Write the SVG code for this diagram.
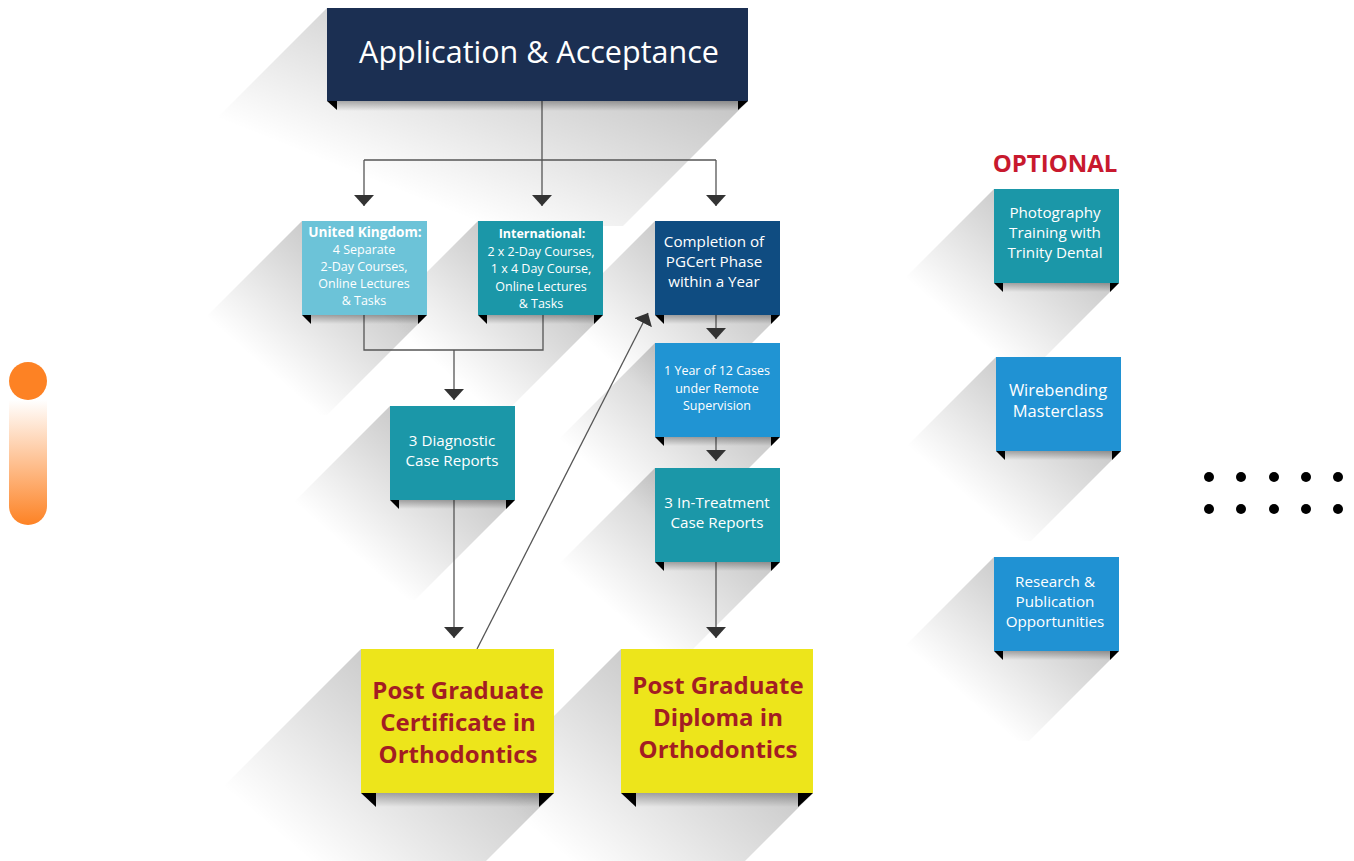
<svg xmlns="http://www.w3.org/2000/svg" width="1354" height="861" viewBox="0 0 1354 861">
<defs>
<linearGradient id="sh" x1="1" y1="0" x2="0" y2="1">
<stop offset="0.2" stop-color="#000" stop-opacity="0.24"/>
<stop offset="0.45" stop-color="#000" stop-opacity="0.13"/>
<stop offset="0.74" stop-color="#000" stop-opacity="0"/>
</linearGradient>
<linearGradient id="strip" x1="0" y1="0" x2="0" y2="1">
<stop offset="0" stop-color="#000" stop-opacity="0.3"/>
<stop offset="1" stop-color="#000" stop-opacity="0"/>
</linearGradient>
<linearGradient id="pill" x1="0" y1="0" x2="0" y2="1">
<stop offset="0" stop-color="#fd8224" stop-opacity="0"/>
<stop offset="1" stop-color="#fd8224" stop-opacity="1"/>
</linearGradient>
<marker id="ah" markerUnits="userSpaceOnUse" markerWidth="12" markerHeight="22" viewBox="0 -11 12 22" refX="11" refY="0" orient="auto">
<path d="M0,-10 L11,0 L0,10 Z" fill="#333"/>
</marker>
</defs>
<style>
.shadow{fill:url(#sh)}
.strip{fill:url(#strip)}
.tab{fill:#000}
.line{fill:none;stroke:#555;stroke-width:1.3}
.arr{fill:none;stroke:#555;stroke-width:1.3;marker-end:url(#ah)}
.t{font-family:"Open Sans","Noto Sans",sans-serif;fill:#fff;text-anchor:middle}
.s{font-size:12.5px}
.m{font-size:15.2px}
.b{font-weight:bold}
.y{font-family:"Open Sans","Noto Sans",sans-serif;fill:#a31d23;font-weight:bold;font-size:24px;text-anchor:middle}
</style>
<rect width="1354" height="861" fill="#fff"/>

<g id="shadows">
<polygon class="shadow" points="327,8 748,8 748,101 623,226 202,226 202,133"/>
<polygon class="shadow" points="302,221 427,221 427,315 327,415 202,415 202,321"/>
<polygon class="shadow" points="478,221 603,221 603,315 503,415 378,415 378,321"/>
<polygon class="shadow" points="655,221 780,221 780,315 680,415 555,415 555,321"/>
<polygon class="shadow" points="655,343 780,343 780,437 680,537 555,537 555,443"/>
<polygon class="shadow" points="655,468 780,468 780,562 680,662 555,662 555,568"/>
<polygon class="shadow" points="390,406 515,406 515,500 415,600 290,600 290,506"/>
<polygon class="shadow" points="361,649 554,649 554,793 414,933 221,933 221,789"/>
<polygon class="shadow" points="621,649 813,649 813,793 673,933 481,933 481,789"/>
<polygon class="shadow" points="994,189 1119,189 1119,283 1029,373 904,373 904,279"/>
<polygon class="shadow" points="996,357 1121,357 1121,451 1031,541 906,541 906,447"/>
<polygon class="shadow" points="994,557 1119,557 1119,651 1029,741 904,741 904,647"/>
</g>

<g id="connectors">
<path class="line" d="M542,101 V160 M364,160 H716"/>
<path class="arr" d="M364,160 V206"/>
<path class="arr" d="M542,160 V206"/>
<path class="arr" d="M716,160 V206"/>
<path class="line" d="M364,315 V350 H543 V315"/>
<path class="arr" d="M454,350 V400"/>
<path class="arr" d="M454,500 V638"/>
<path class="arr" d="M477,649 L648,313"/>
<path class="arr" d="M716,315 V339"/>
<path class="arr" d="M716,437 V461"/>
<path class="arr" d="M716,562 V638"/>
</g>

<g id="n-application">
<rect class="strip" x="337" y="101" width="401" height="10"/>
<polygon class="tab" points="327,101 337,101 337,110"/>
<polygon class="tab" points="738,101 748,101 738,110"/>
<rect x="327" y="8" width="421" height="93" fill="#1b2f52"/>
<text class="t" x="539" y="63" font-size="30.5">Application &amp; Acceptance</text>
</g>

<g id="n-uk">
<rect class="strip" x="311" y="315" width="107" height="9"/>
<polygon class="tab" points="302,315 311,315 311,324"/>
<polygon class="tab" points="418,315 427,315 418,324"/>
<rect x="302" y="221" width="125" height="94" fill="#6cc3d8"/>
<text class="t s"><tspan class="b" x="365" y="237" font-size="13.6">United Kingdom:</tspan><tspan x="364" y="254">4 Separate</tspan><tspan x="364" y="271">2-Day Courses,</tspan><tspan x="364" y="288">Online Lectures</tspan><tspan x="364" y="305">&amp; Tasks</tspan></text>
</g>

<g id="n-international">
<rect class="strip" x="487" y="315" width="107" height="9"/>
<polygon class="tab" points="478,315 487,315 487,324"/>
<polygon class="tab" points="594,315 603,315 594,324"/>
<rect x="478" y="221" width="125" height="94" fill="#1b97a8"/>
<text class="t s"><tspan class="b" x="542" y="238">International:</tspan><tspan x="541" y="256">2 x 2-Day Courses,</tspan><tspan x="541" y="273">1 x 4 Day Course,</tspan><tspan x="541" y="291">Online Lectures</tspan><tspan x="541" y="308">&amp; Tasks</tspan></text>
</g>

<g id="n-completion">
<rect class="strip" x="664" y="315" width="107" height="9"/>
<polygon class="tab" points="655,315 664,315 664,324"/>
<polygon class="tab" points="771,315 780,315 771,324"/>
<rect x="655" y="221" width="125" height="94" fill="#0f4c81"/>
<text class="t m"><tspan x="714" y="247">Completion of</tspan><tspan x="714" y="267">PGCert Phase</tspan><tspan x="714" y="287">within a Year</tspan></text>
</g>

<g id="n-year">
<rect class="strip" x="664" y="437" width="107" height="9"/>
<polygon class="tab" points="655,437 664,437 664,446"/>
<polygon class="tab" points="771,437 780,437 771,446"/>
<rect x="655" y="343" width="125" height="94" fill="#2094d3"/>
<text class="t s"><tspan x="717" y="375">1 Year of 12 Cases</tspan><tspan x="717" y="393">under Remote</tspan><tspan x="717" y="410">Supervision</tspan></text>
</g>

<g id="n-intreatment">
<rect class="strip" x="664" y="562" width="107" height="9"/>
<polygon class="tab" points="655,562 664,562 664,571"/>
<polygon class="tab" points="771,562 780,562 771,571"/>
<rect x="655" y="468" width="125" height="94" fill="#1b97a8"/>
<text class="t m"><tspan x="717" y="508">3 In-Treatment</tspan><tspan x="717" y="528">Case Reports</tspan></text>
</g>

<g id="n-diagnostic">
<rect class="strip" x="399" y="500" width="107" height="9"/>
<polygon class="tab" points="390,500 399,500 399,509"/>
<polygon class="tab" points="506,500 515,500 506,509"/>
<rect x="390" y="406" width="125" height="94" fill="#1b97a8"/>
<text class="t m"><tspan x="452" y="446">3 Diagnostic</tspan><tspan x="452" y="466">Case Reports</tspan></text>
</g>

<g id="n-pgcert">
<rect class="strip" x="376" y="793" width="163" height="14"/>
<polygon class="tab" points="361,793 376,793 376,807"/>
<polygon class="tab" points="539,793 554,793 539,807"/>
<rect x="361" y="649" width="193" height="144" fill="#ede51b"/>
<text class="y"><tspan x="458" y="699">Post Graduate</tspan><tspan x="458" y="731">Certificate in</tspan><tspan x="458" y="763">Orthodontics</tspan></text>
</g>

<g id="n-pgdip">
<rect class="strip" x="636" y="793" width="162" height="14"/>
<polygon class="tab" points="621,793 636,793 636,807"/>
<polygon class="tab" points="798,793 813,793 798,807"/>
<rect x="621" y="649" width="192" height="144" fill="#ede51b"/>
<text class="y"><tspan x="718" y="694">Post Graduate</tspan><tspan x="718" y="726">Diploma in</tspan><tspan x="718" y="758">Orthodontics</tspan></text>
</g>

<text id="optional" x="1055" y="172" font-family="'Open Sans','Noto Sans',sans-serif" font-weight="bold" font-size="24" fill="#c8192e" text-anchor="middle">OPTIONAL</text>

<g id="n-photography">
<rect class="strip" x="1003" y="283" width="107" height="9"/>
<polygon class="tab" points="994,283 1003,283 1003,292"/>
<polygon class="tab" points="1110,283 1119,283 1110,292"/>
<rect x="994" y="189" width="125" height="94" fill="#1b97a8"/>
<text class="t m"><tspan x="1055" y="218">Photography</tspan><tspan x="1055" y="238">Training with</tspan><tspan x="1055" y="258">Trinity Dental</tspan></text>
</g>

<g id="n-wirebending">
<rect class="strip" x="1005" y="451" width="107" height="9"/>
<polygon class="tab" points="996,451 1005,451 1005,460"/>
<polygon class="tab" points="1112,451 1121,451 1112,460"/>
<rect x="996" y="357" width="125" height="94" fill="#2092d3"/>
<text class="t" font-size="16.5"><tspan x="1058" y="396">Wirebending</tspan><tspan x="1058" y="417">Masterclass</tspan></text>
</g>

<g id="n-research">
<rect class="strip" x="1003" y="651" width="107" height="9"/>
<polygon class="tab" points="994,651 1003,651 1003,660"/>
<polygon class="tab" points="1110,651 1119,651 1110,660"/>
<rect x="994" y="557" width="125" height="94" fill="#2092d3"/>
<text class="t m"><tspan x="1055" y="587">Research &amp;</tspan><tspan x="1055" y="607">Publication</tspan><tspan x="1055" y="627">Opportunities</tspan></text>
</g>

<g id="info-icon">
<circle cx="28" cy="381" r="19" fill="#fd8224"/>
<path d="M9,400 H47 V506 A19,19 0 0 1 9,506 Z" fill="url(#pill)"/>
</g>

<g id="dots" fill="#000">
<circle cx="1209" cy="477" r="5"/><circle cx="1241" cy="477" r="5"/><circle cx="1274" cy="477" r="5"/><circle cx="1306" cy="477" r="5"/><circle cx="1338" cy="477" r="5"/>
<circle cx="1209" cy="509" r="5"/><circle cx="1241" cy="509" r="5"/><circle cx="1274" cy="509" r="5"/><circle cx="1306" cy="509" r="5"/><circle cx="1338" cy="509" r="5"/>
</g>
</svg>
